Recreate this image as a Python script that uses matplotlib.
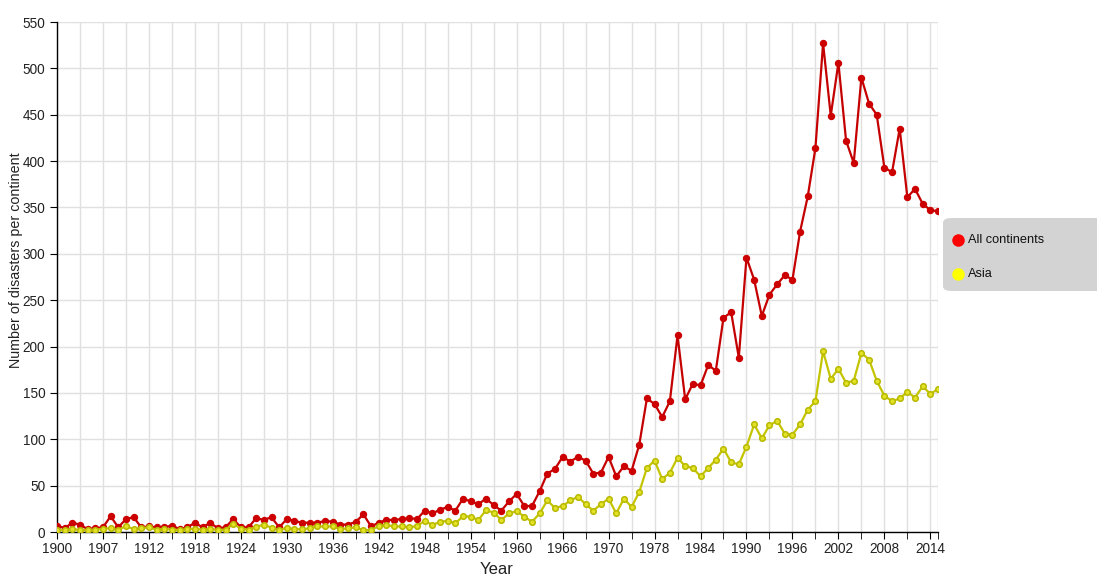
import matplotlib
matplotlib.use("Agg")
import matplotlib.pyplot as plt
from matplotlib.patches import FancyBboxPatch
from matplotlib.lines import Line2D

plt.rcParams['font.family'] = ['Liberation Sans', 'DejaVu Sans']

# data
years = list(range(1900, 2016))

all_continents = [
    7, 4, 10, 8, 3, 4, 5, 17, 5, 14,
    16, 5, 6, 5, 5, 7, 3, 5, 10, 5,
    10, 4, 5, 14, 5, 5, 15, 13, 16, 5,
    14, 12, 10, 10, 10, 12, 11, 8, 8, 11,
    19, 6, 10, 13, 13, 14, 15, 14, 23, 20,
    24, 27, 23, 36, 33, 30, 36, 29, 23, 33,
    41, 28, 28, 44, 63, 68, 81, 76, 81, 77,
    63, 64, 81, 60, 71, 66, 94, 144, 138, 124,
    141, 212, 143, 160, 158, 180, 174, 231, 237, 188,
    296, 272, 233, 256, 267, 277, 272, 324, 362, 414,
    527, 449, 506, 422, 398, 490, 462, 450, 393, 388,
    435, 361, 370, 354, 347, 346,
]

asia = [
    2.5, 2, 3.5, 2, 2, 2.5, 3.5, 4, 2, 6.5,
    3, 4, 5, 2.5, 3.5, 2.5, 2, 3, 3.5, 2.5,
    3.5, 2, 2.5, 9, 3.5, 2.5, 5.5, 8, 4.5, 2,
    4.5, 3, 3, 4, 6, 6, 6, 3, 4, 5,
    2, 2, 6.5, 7.5, 6, 6, 5, 6.5, 12, 7.5,
    11, 12, 9.5, 17, 16.5, 13, 23.5, 21, 13, 20,
    22.5, 16.5, 11, 20, 34, 26, 28, 34, 38, 30,
    23, 30, 36, 20, 36, 27, 43, 69, 77, 57,
    64, 80, 71, 69, 60, 69, 78, 90, 75, 73,
    92, 116, 101, 115, 120, 106, 105, 116, 132, 141,
    195, 165, 176, 161, 163, 193, 186, 163, 147, 141,
    144, 151, 145, 157, 149, 154,
]

tick_years = list(range(1900, 2015, 6))
tick_labels = ['1900', '1907', '1912', '1918', '1924', '1930', '1936', '1942',
               '1948', '1954', '1960', '1966', '1970', '1978', '1984', '1990',
               '1996', '2002', '2008', '2014']
minor_years = list(range(1903, 2015, 6)) + [2015]

legend_names = ['All continents', 'Asia']
legend_colors = ['#ff0000', '#ffff00']

W, H = 1097, 579
fig = plt.figure(figsize=(W / 100, H / 100), dpi=100)
ax = fig.add_axes([57 / W, (H - 532) / H, (938 - 57) / W, (532 - 22) / H])

ax.plot(years, all_continents, color='#c40000', lw=1.6, marker='o', ms=4.3,
        mfc='#cc0000', mec='#cc0000', zorder=3)
ax.plot(years, asia, color='#c4c400', lw=1.6, marker='o', ms=4,
        mfc='#e2e226', mec='#b8b800', mew=1.1, zorder=4)

ax.set_xlim(1900, 2015)
ax.set_ylim(0, 550)
ax.set_yticks(range(0, 551, 50))
ax.set_xticks(tick_years)
ax.set_xticklabels(tick_labels)
ax.set_xticks(minor_years, minor=True)

ax.grid(True, which='both', color='#e0e0e0', lw=1)
ax.set_axisbelow(True)
for s in ['top', 'right']:
    ax.spines[s].set_visible(False)
for s in ['left', 'bottom']:
    ax.spines[s].set_color('black')
    ax.spines[s].set_linewidth(1)
ax.tick_params(which='both', direction='out', length=5, color='black',
               labelsize=9.8, labelcolor='#222222')
ax.tick_params(axis='x', which='major', pad=2)

ax.set_xlabel('Year', fontsize=12, color='#222222')
ax.xaxis.set_label_coords((497 - 57) / 881, -(570 - 532) / 510)
ax.xaxis.label.set_va('center')
ax.set_ylabel('Number of disasters per continent', fontsize=10.3, color='#222222')
ax.yaxis.set_label_coords(-(57 - 16) / 881, (532 - 260) / 510)
ax.yaxis.label.set_va('center')

# legend box on the right, partly cut off by the figure edge
box = FancyBboxPatch((943 / W, (H - 291) / H), 170 / W, 73 / H,
                     boxstyle='round,pad=0,rounding_size=0.008',
                     transform=fig.transFigure, facecolor='#d3d3d3',
                     edgecolor='none')
fig.patches.append(box)
for i, (name, col) in enumerate(zip(legend_names, legend_colors)):
    yy = (H - 240 - 34 * i) / H
    fig.add_artist(Line2D([958 / W], [yy], marker='o', ms=8, color=col,
                          mec=col, transform=fig.transFigure))
    fig.text(968 / W, yy, name, fontsize=9.2, va='center', ha='left', color='#111111')

plt.savefig('out.png', dpi=100)
